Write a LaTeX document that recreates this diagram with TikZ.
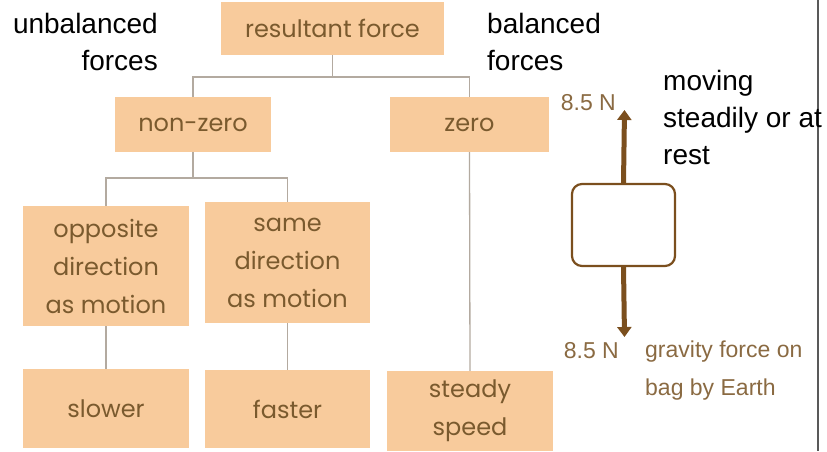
\documentclass[tikz,border=0pt]{standalone}
\usepackage{fontspec}
\setmainfont{Liberation Sans}
\newfontfamily\boxfont{Poppins}
\usetikzlibrary{arrows.meta}
\definecolor{boxfill}{HTML}{F8CB9C}
\definecolor{boxtext}{HTML}{7A5A2E}
\definecolor{conn}{HTML}{B3AAA0}
\definecolor{bagbrown}{HTML}{7B4F1E}
\definecolor{labelbrown}{HTML}{8A6A42}
\tikzset{
  fbox/.style={fill=boxfill, draw=none, inner sep=0pt, align=center, text=boxtext,
    font=\boxfont\fontsize{24}{38}\selectfont},
  conn/.style={draw=conn, line width=1.3pt},
  blacktext/.style={inner sep=0pt, font=\fontsize{28}{37}\selectfont, text=black},
  flabel/.style={inner sep=0pt, font=\fontsize{23}{38}\selectfont, text=labelbrown},
  force/.style={draw=bagbrown, line width=5pt, -{Triangle[width=14pt,length=10pt]}},
}
\begin{document}
\begin{tikzpicture}[x=1pt,y=-1pt]
\useasboundingbox (0,0) rectangle (827,451);
\draw[color=black!65, line width=1.5pt] (818,0) -- (818,451);

\node[fbox, minimum width=223pt, minimum height=53pt] (res) at (332.5,28.5) {resultant force};
\node[fbox, minimum width=156pt, minimum height=55pt] (nz) at (193,124.5) {non-zero};
\node[fbox, minimum width=159pt, minimum height=55pt] (zero) at (469.5,124.5) {zero};
\node[fbox, minimum width=166pt, minimum height=120pt] (opp) at (106,266) {opposite\\direction\\as motion};
\node[fbox, minimum width=165pt, minimum height=121pt] (same) at (287.5,262.5) {same\\direction\\as motion};
\node[fbox, minimum width=166pt, minimum height=79pt] (slow) at (106,408.5) {slower};
\node[fbox, minimum width=165pt, minimum height=78pt] (fast) at (287.5,409) {faster};
\node[fbox, minimum width=166pt, minimum height=80pt] (steady) at (470,411) {steady\\speed};

\coordinate (j1) at (res.south |- 0,77);
\coordinate (j2) at (nz.south |- 0,178);
\draw[conn] (res.south) -- (j1) -| (nz.north);
\draw[conn] (j1) -| (zero.north);
\draw[conn] (nz.south) -- (j2) -| (opp.north);
\draw[conn] (j2) -| (same.north);
\draw[conn] (zero.south) -- (steady.north);
\draw[conn] (opp.south) -- (slow.north);
\draw[conn] (same.south) -- (fast.north);

\node[blacktext, align=right, anchor=base east] (unb) at (158,70) {unbalanced\\forces};
\node[blacktext, align=left, anchor=base west] (bal) at (487,70) {balanced\\forces};
\node[blacktext, align=left, anchor=base west] (mov) at (663,164) {moving\\steadily or at\\rest};

\node[draw=bagbrown, line width=2.2pt, rounded corners=10pt, minimum width=103pt, minimum height=82pt] (bag) at (623.5,225) {};
\coordinate (uptip) at (624.5,110);
\coordinate (downtip) at (624.5,337);
\draw[force] (bag.north) -- (uptip);
\draw[force] (bag.south) -- (downtip);
\node[flabel, anchor=base east] (f1) at (616,110) {8.5 N};
\node[flabel, anchor=base east] (f2) at (619,358) {8.5 N};
\node[flabel, align=left, anchor=base west] (grav) at (645,395) {gravity force on\\bag by Earth};
\end{tikzpicture}
\end{document}
